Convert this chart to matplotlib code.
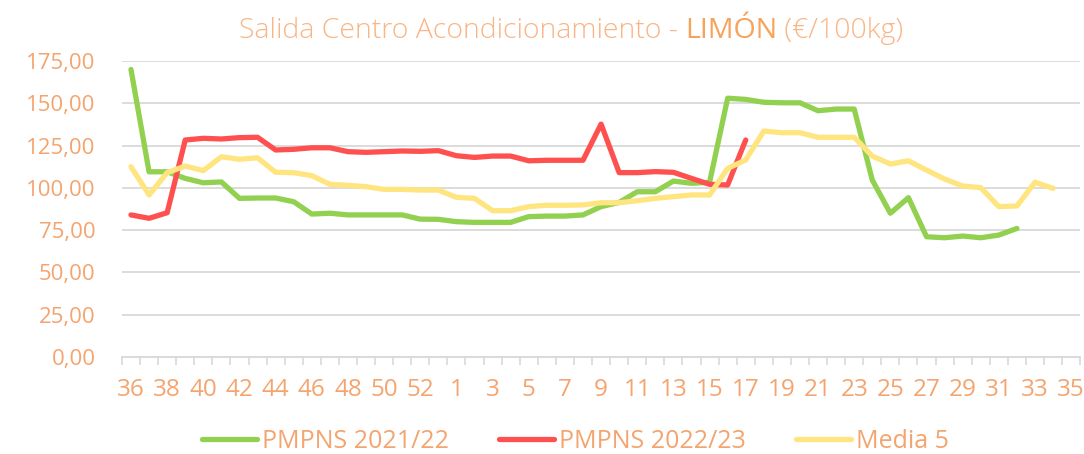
import numpy as np
import matplotlib
matplotlib.use("Agg")
import matplotlib.pyplot as plt
from matplotlib.ticker import FuncFormatter

# weeks of the campaign: 36..53 then 1..35
weeks = list(range(36, 54)) + list(range(1, 36))

pmpns_2122 = [170.0, 109.5, 109.5, 105.6, 103.0, 103.5, 93.8, 94.0, 94.0, 91.8,
              84.5, 85.0, 84.0, 84.0, 84.0, 84.0, 81.5, 81.4, 80.0, 79.6,
              79.6, 79.6, 83.0, 83.3, 83.3, 84.0, 88.9, 91.4, 97.7, 97.7,
              104.0, 102.7, 103.3, 153.0, 152.3, 150.6, 150.3, 150.3, 145.6, 146.6,
              146.6, 104.6, 85.0, 94.2, 71.1, 70.5, 71.5, 70.5, 72.1, 76.0]

pmpns_2223 = [84.0, 82.0, 85.3, 128.3, 129.3, 128.9, 129.7, 129.9, 122.4, 122.8,
              123.7, 123.7, 121.4, 121.0, 121.4, 121.8, 121.6, 122.0, 119.0, 118.0,
              118.8, 118.8, 116.0, 116.3, 116.3, 116.3, 137.7, 109.0, 109.0, 109.6,
              109.2, 105.6, 102.1, 101.7, 128.3]

media5 = [112.5, 95.8, 109.0, 112.9, 110.2, 118.4, 116.9, 117.8, 109.2, 109.0,
          107.2, 102.1, 101.5, 100.7, 99.1, 99.1, 98.7, 98.7, 94.4, 93.8,
          86.5, 86.5, 88.9, 89.7, 89.7, 89.9, 91.2, 91.2, 92.4, 93.8,
          94.8, 95.8, 95.8, 111.5, 116.5, 133.6, 132.6, 132.6, 129.9, 129.9,
          129.9, 118.8, 114.1, 116.0, 110.5, 105.2, 101.1, 100.1, 88.9, 89.3,
          103.3, 99.7]

series = [("PMPNS 2021/22", pmpns_2122, "#92D050"),
          ("PMPNS 2022/23", pmpns_2223, "#FF5050"),
          ("Media 5", media5, "#FFE57F")]

txt_color = "#F4A46E"
font = "Open Sans"

fig = plt.figure(figsize=(10.84, 4.54), dpi=100)
ax = fig.add_axes([0.1125, 0.2137, 0.884, 0.6519])

x = np.arange(len(weeks))
for name, vals, col in series:
    ax.plot(x[:len(vals)], vals, color=col, lw=3.8, label=name,
            solid_capstyle="round", solid_joinstyle="round")

ax.set_xlim(-0.5, len(weeks) - 0.5)
ax.set_ylim(0, 175)
ax.set_yticks(np.arange(0, 176, 25))
ax.yaxis.set_major_formatter(FuncFormatter(lambda v, p: f"{v:.2f}".replace(".", ",")))
ax.grid(axis="y", color="#D9D9D9", lw=1.3)
ax.set_axisbelow(True)

# tick marks between categories, labels every other week
ax.set_xticks(np.arange(-0.5, len(weeks), 1.0))
ax.set_xticklabels([])
ax.tick_params(axis="x", which="major", length=6, color="#D9D9D9", width=1.2)
ax.set_xticks(x[::2], minor=True)
ax.set_xticklabels([str(w) for w in weeks[::2]], minor=True)
ax.tick_params(axis="x", which="minor", length=0, pad=15, labelsize=17.5,
               labelcolor=txt_color)
ax.tick_params(axis="y", length=0, pad=19, labelsize=16, labelcolor=txt_color)
for lab in ax.get_xticklabels(minor=True) + ax.get_yticklabels():
    lab.set_fontfamily(font)

for s in ["top", "right", "left"]:
    ax.spines[s].set_visible(False)
ax.spines["bottom"].set_color("#D9D9D9")
ax.spines["bottom"].set_linewidth(1.3)

leg = ax.legend(loc="center", bbox_to_anchor=(0.473, -0.285), ncol=3,
                frameon=False, handlelength=2.2, columnspacing=2.0,
                handletextpad=0.2, prop={"family": font, "size": 18})
for t in leg.get_texts():
    t.set_color(txt_color)

# title in three pieces (LIMÓN highlighted)
parts = [("Salida Centro Acondicionamiento - ", "#F9B585", "light"),
         ("LIMÓN", "#F7A35C", "normal"),
         (" (€/100kg)", "#F9B585", "light")]
renderer = fig.canvas.get_renderer()
objs = []
for s, c, w in parts:
    objs.append(fig.text(0, 0.932, s, color=c, fontsize=20.5, fontweight=w,
                         family=font, va="center", ha="left"))
widths = [o.get_window_extent(renderer).width for o in objs]
total = sum(widths)
start = 571 - total / 2
for o, w in zip(objs, widths):
    o.set_x(start / fig.bbox.width)
    start += w

fig.savefig("out.png", dpi=100)
